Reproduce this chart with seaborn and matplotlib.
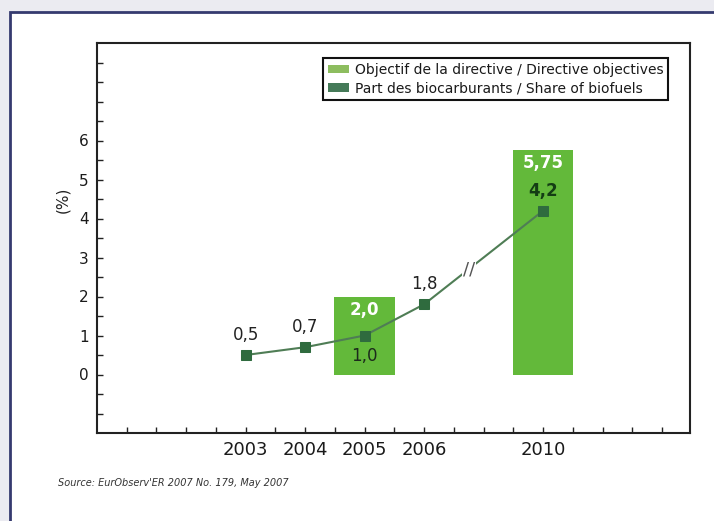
import numpy as np
import pandas as pd
import matplotlib
matplotlib.use("Agg")
import matplotlib.pyplot as plt
import seaborn as sns
from matplotlib.patches import Patch, Rectangle

# ---------------- data ----------------
share_years = [2003, 2004, 2005, 2006, 2010]
share_values = [0.5, 0.7, 1.0, 1.8, 4.2]
share_labels = ["0,5", "0,7", "1,0", "1,8", "4,2"]

target_years = [2005, 2010]
target_values = [2.0, 5.75]
target_labels = ["2,0", "5,75"]

year_tick_labels = ["2003", "2004", "2005", "2006", "2010"]
y_tick_values = [0, 1, 2, 3, 4, 5, 6]
legend_labels = ["Objectif de la directive / Directive objectives",
                 "Part des biocarburants / Share of biofuels"]
source_text = "Source: EurObserv'ER 2007 No. 179, May 2007"


def axis_pos(year):
    """Broken year scale: one unit per year up to 2006, half a unit per year after the break."""
    return year - 2003 if year <= 2006 else 3 + (year - 2006) / 2


# ---------------- style ----------------
sns.set_theme(style="white")
plt.rcParams["font.family"] = ["DejaVu Sans"]

bar_color = "#63b93a"
line_color = "#4f7d55"
marker_color = "#2f6b3e"
legend_light = "#8dbd5f"
legend_dark = "#457a58"

W, H = 714, 521
fig = plt.figure(figsize=(W / 100, H / 100), dpi=100, facecolor="#ebebf1")
fig.patches.append(Rectangle((10 / W, -0.05), 1.1, 1 - 12 / H + 0.05,
                             transform=fig.transFigure, facecolor="white",
                             edgecolor="#353a6f", linewidth=2, zorder=-10))

ax = fig.add_axes([97 / W, 1 - 433 / H, 593 / W, 390 / H])
ax.set_zorder(1)
ax.set_facecolor("white")

df_t = pd.DataFrame({"pos": [axis_pos(y) for y in target_years], "value": target_values})
df_s = pd.DataFrame({"pos": [axis_pos(y) for y in share_years], "value": share_values})

sns.barplot(data=df_t, x="pos", y="value", native_scale=True, width=0.34,
            color=bar_color, saturation=1, edgecolor="none", ax=ax, zorder=2)

sns.lineplot(data=df_s, x="pos", y="value", color=line_color, linewidth=1.5,
             marker="s", markersize=7, markerfacecolor=marker_color,
             markeredgecolor=marker_color, ax=ax, zorder=3)

# break mark on the line between 2006 and 2010
t = 0.375
bx = df_s["pos"].iloc[-2] + t * (df_s["pos"].iloc[-1] - df_s["pos"].iloc[-2])
by = df_s["value"].iloc[-2] + t * (df_s["value"].iloc[-1] - df_s["value"].iloc[-2])
ax.text(bx, by, "//", ha="center", va="center", fontsize=13, color="#555555",
        zorder=4, bbox=dict(facecolor="white", edgecolor="none", pad=0.5))

# value labels
for x, v, lab, y in zip(df_s["pos"], share_values, share_labels, share_years):
    if y in target_years and y != 2010:
        ax.annotate(lab, (x, v), xytext=(0, -8), textcoords="offset points",
                    ha="center", va="top", fontsize=12, color="#1c2a1c", zorder=5)
    else:
        col = "#143d14" if y == 2010 else "#222222"
        ax.annotate(lab, (x, v), xytext=(0, 8), textcoords="offset points",
                    ha="center", va="bottom", fontsize=12, color=col,
                    fontweight="bold" if y == 2010 else "normal", zorder=5)

for x, v, lab in zip(df_t["pos"], target_values, target_labels):
    ax.annotate(lab, (x, v), xytext=(0, -3), textcoords="offset points",
                ha="center", va="top", fontsize=12, color="white",
                fontweight="bold", zorder=5)

# axes
ax.set_xlim(-2.5, 7.47)
ax.set_ylim(-1.5, 8.5)
ax.set_xticks([axis_pos(y) for y in share_years])
ax.set_xticklabels(year_tick_labels, fontsize=13, color="#1a1a1a")
ax.set_xticks(np.arange(-2, 7.01, 0.5), minor=True)
yt = np.arange(-1.0, 8.01, 0.5)
ax.set_yticks(yt)
ax.set_yticklabels([str(int(v)) if v in y_tick_values else "" for v in yt],
                   fontsize=11, color="#1a1a1a")
ax.tick_params(axis="both", which="both", direction="in", length=4, width=1,
               color="#222222", bottom=True, left=True, top=False, right=False)
ax.tick_params(axis="x", which="major", pad=6)
ax.tick_params(axis="y", which="major", pad=6)
ax.set_xlabel("")
ax.set_ylabel("(%)", fontsize=11, color="#222222")
ax.yaxis.set_label_coords((70 - 97) / 593, (433 - 200) / 390)
for s in ax.spines.values():
    s.set_visible(True)
    s.set_color("#222222")
    s.set_linewidth(1.5)

handles = [Patch(facecolor=legend_light, edgecolor="none"),
           Patch(facecolor=legend_dark, edgecolor="none")]
leg = ax.legend(handles, legend_labels, loc="upper right",
                bbox_to_anchor=((668 - 97) / 593, (433 - 58) / 390),
                borderaxespad=0, fontsize=10, frameon=True, fancybox=False,
                framealpha=1, edgecolor="#111111", handlelength=1.5,
                handleheight=0.6, labelspacing=0.3, handletextpad=0.4,
                borderpad=0.35)
leg.get_frame().set_linewidth(1.5)
for txt in leg.get_texts():
    txt.set_color("#1a1a1a")

fig.text(58 / W, 1 - 483 / H, source_text, fontsize=7, style="italic",
         color="#333333", va="center", ha="left")

fig.savefig("out.png", dpi=100, facecolor=fig.get_facecolor())
